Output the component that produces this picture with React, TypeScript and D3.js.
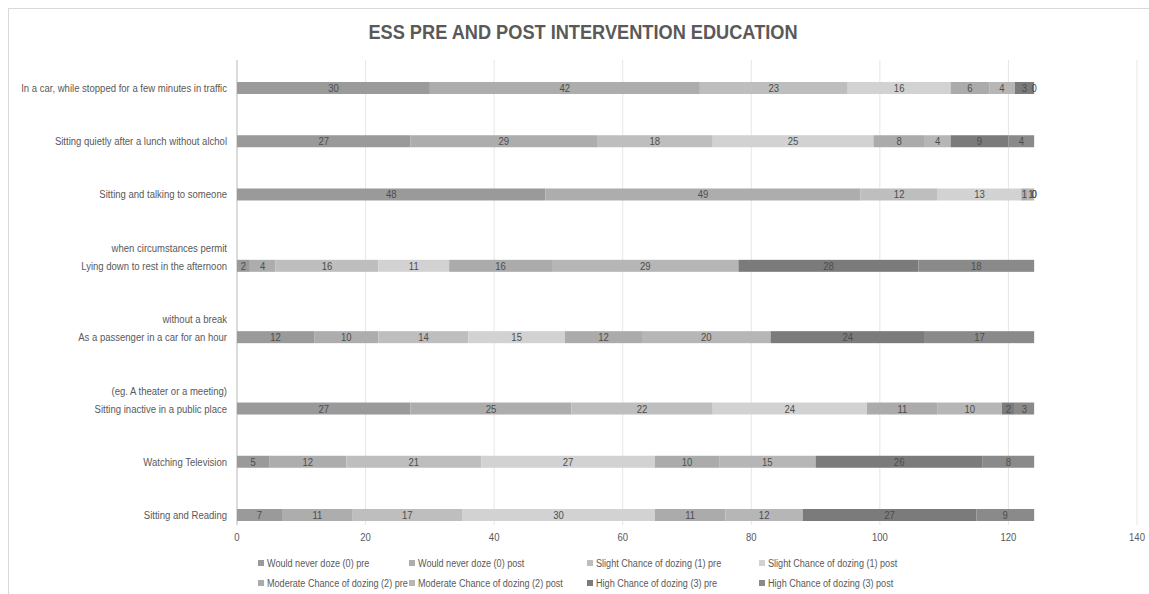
import React from "react";
import * as d3 from "d3";

// Epworth Sleepiness Scale situations, top to bottom
const categories = [
  "In a car, while stopped for a few minutes in traffic",
  "Sitting quietly after a lunch without alchol",
  "Sitting and talking to someone",
  "Lying down to rest in the afternoon",
  "As a passenger in a car for an hour",
  "Sitting inactive in a public place",
  "Watching Television",
  "Sitting and Reading",
];
// second label line drawn above the main label
const categoryNotes = [
  "",
  "",
  "",
  "when circumstances permit",
  "without a break",
  "(eg. A theater or a meeting)",
  "",
  "",
];

const seriesNames = [
  "Would never doze (0) pre",
  "Would never doze (0) post",
  "Slight Chance of dozing (1) pre",
  "Slight Chance of dozing (1) post",
  "Moderate Chance of dozing (2) pre",
  "Moderate Chance of dozing (2) post",
  "High Chance of dozing (3) pre",
  "High Chance of dozing (3) post",
];

const neverPre = [30, 27, 48, 2, 12, 27, 5, 7];
const neverPost = [42, 29, 49, 4, 10, 25, 12, 11];
const slightPre = [23, 18, 12, 16, 14, 22, 21, 17];
const slightPost = [16, 25, 13, 11, 15, 24, 27, 30];
const moderatePre = [6, 8, 1, 16, 12, 11, 10, 11];
const moderatePost = [4, 4, 1, 29, 20, 10, 15, 12];
const highPre = [3, 9, 0, 28, 24, 2, 26, 27];
const highPost = [0, 4, 0, 18, 17, 3, 8, 9];

const xTicks = [0, 20, 40, 60, 80, 100, 120, 140];

const seriesColors = [
  "#9a9a9a",
  "#adadad",
  "#bebebe",
  "#d2d2d2",
  "#ababab",
  "#b6b6b6",
  "#7b7b7b",
  "#8a8a8a",
];

const W = 1149;
const H = 594;
const FONT = "'Liberation Sans', Arial, sans-serif";
const TEXT = "#595959";
const SX = 0.83; // horizontal condensing of all text

const seriesValues = [
  neverPre,
  neverPost,
  slightPre,
  slightPost,
  moderatePre,
  moderatePost,
  highPre,
  highPost,
];

type TProps = {
  x: number;
  y: number;
  anchor?: "start" | "middle" | "end";
  size?: number;
  weight?: string;
  fill?: string;
  sx?: number;
  children: React.ReactNode;
};

function T({ x, y, anchor = "start", size = 11.5, weight = "normal", fill = TEXT, sx = SX, children }: TProps) {
  return (
    <text
      transform={`translate(${x},${y}) scale(${sx},1)`}
      textAnchor={anchor}
      fontSize={size}
      fontWeight={weight}
      fill={fill}
    >
      {children}
    </text>
  );
}

export default function App() {
  const table = categories.map((c, i) => {
    const row: Record<string, number | string> = { category: c };
    seriesNames.forEach((s, k) => (row[s] = seriesValues[k][i]));
    return row;
  });
  const stacked = d3.stack<any>().keys(seriesNames)(table);

  const plotLeft = 237;
  const plotTop = 60;
  const plotBottom = 525;
  const x = d3.scaleLinear().domain([0, 140]).range([plotLeft, 1137]);

  // rows with a two-line label get extra room above them
  const slots: number[] = [];
  let extra = 0;
  categories.forEach((_, i) => {
    if (categoryNotes[i]) extra += 0.34;
    slots.push(i + extra);
  });
  const y = d3
    .scaleLinear()
    .domain([0, slots[slots.length - 1]])
    .range([88, 515]);
  const barH = 12;

  const legendCols = [261, 412, 590, 762];
  const legendRows = [564, 584];

  return (
    <svg
      width={W}
      height={H}
      style={{ position: "absolute", left: 0, top: 0, background: "#fff" }}
      fontFamily={FONT}
    >
      <rect x={8.5} y={8.5} width={W + 10} height={H + 10} fill="#fff" stroke="#d9d9d9" />
      <T x={583} y={39} anchor="middle" size={20} weight="bold" sx={0.91}>
        ESS PRE AND POST INTERVENTION EDUCATION
      </T>

      {/* gridlines */}
      {xTicks.slice(1).map((t) => (
        <line
          key={t}
          x1={x(t)}
          x2={x(t)}
          y1={plotTop}
          y2={plotBottom}
          stroke="#e6e6e6"
          strokeWidth={1}
        />
      ))}
      <line x1={x(0)} x2={x(0)} y1={plotTop} y2={plotBottom} stroke="#c4c4c4" strokeWidth={1.2} />

      {/* tick labels */}
      {xTicks.map((t) => (
        <T key={t} x={x(t)} y={541} anchor="middle">
          {t}
        </T>
      ))}

      {/* category labels */}
      {categories.map((c, i) => (
        <g key={c}>
          <T x={227} y={y(slots[i]) + 4} anchor="end">
            {c}
          </T>
          {categoryNotes[i] && (
            <T x={227} y={y(slots[i]) - 14} anchor="end">
              {categoryNotes[i]}
            </T>
          )}
        </g>
      ))}

      {/* stacked bars */}
      {stacked.map((layer, k) => (
        <g key={layer.key}>
          {layer.map((d, i) => (
            <rect
              key={i}
              x={x(d[0])}
              y={y(slots[i]) - barH / 2}
              width={x(d[1]) - x(d[0])}
              height={barH}
              fill={seriesColors[k]}
            />
          ))}
        </g>
      ))}
      {/* value labels */}
      {stacked.map((layer) => (
        <g key={"l" + layer.key}>
          {layer.map((d, i) => (
            <T key={i} x={x((d[0] + d[1]) / 2)} y={y(slots[i]) + 4} anchor="middle" fill="#4d4d4d">
              {d[1] - d[0]}
            </T>
          ))}
        </g>
      ))}

      {/* legend */}
      {seriesNames.map((s, k) => {
        const lx = legendCols[k % 4];
        const ly = legendRows[Math.floor(k / 4)];
        return (
          <g key={s}>
            <rect x={lx - 3} y={ly - 4} width={6} height={6} fill={seriesColors[k]} />
            <T x={lx + 6} y={ly + 3} sx={0.79}>
              {s}
            </T>
          </g>
        );
      })}
    </svg>
  );
}
